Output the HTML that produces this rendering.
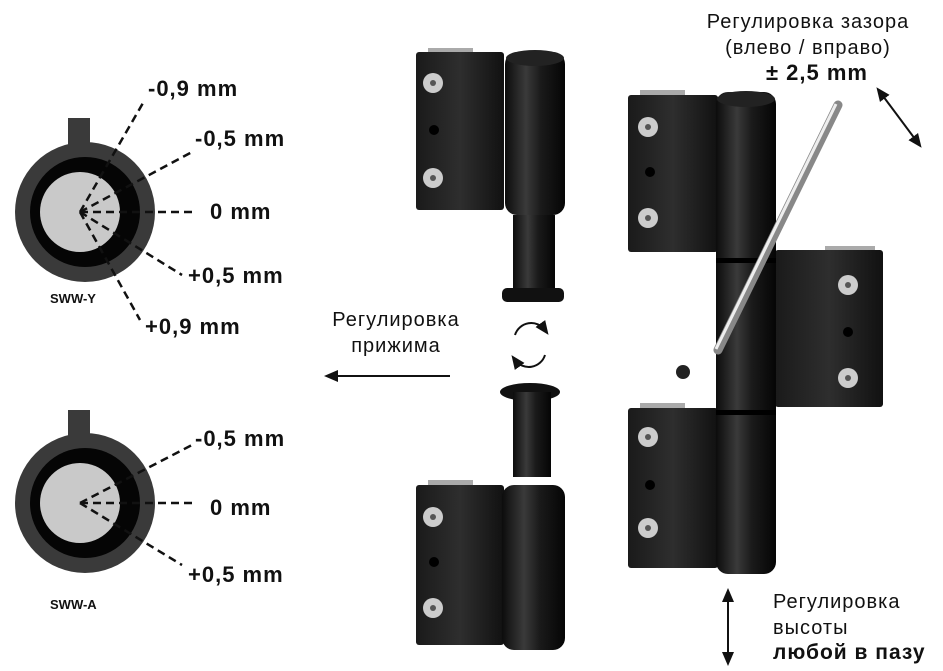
<!DOCTYPE html>
<html><head><meta charset="utf-8"><style>
body{margin:0;background:#fff;width:943px;height:671px;overflow:hidden}
svg{display:block}
text{font-family:"Liberation Sans",sans-serif;fill:#111}
.b{font-weight:bold;font-size:22px;letter-spacing:1px}
.r{font-size:20px;letter-spacing:1px}
</style></head><body>
<svg width="943" height="671" viewBox="0 0 943 671">
<defs>
<linearGradient id="cyl" x1="0" x2="1"><stop offset="0" stop-color="#0c0c0c"/><stop offset=".35" stop-color="#3a3a3a"/><stop offset=".6" stop-color="#1a1a1a"/><stop offset="1" stop-color="#050505"/></linearGradient>
<linearGradient id="pl" x1="0" x2="1"><stop offset="0" stop-color="#1a1a1a"/><stop offset=".5" stop-color="#2e2e2e"/><stop offset="1" stop-color="#111"/></linearGradient>
<g id="screw"><circle r="10" fill="#ccc"/><circle r="3" fill="#555"/></g>
<marker id="ah" markerWidth="8" markerHeight="8" refX="4" refY="4" orient="auto-start-reverse"><path d="M0,1 L7,4 L0,7 Z" fill="#111"/></marker>
</defs>

<g>
<rect x="68" y="118" width="22" height="40" fill="#3a3a3a"/>
<circle cx="85" cy="212" r="70" fill="#3a3a3a"/>
<circle cx="85" cy="212" r="55" fill="#050505"/>
<circle cx="80" cy="212" r="40" fill="#c9c9c9"/>
<g stroke="#111" stroke-width="2.5" stroke-dasharray="8,5" fill="none">
<line x1="80" y1="212" x2="143" y2="103"/>
<line x1="80" y1="212" x2="192" y2="152"/>
<line x1="80" y1="212" x2="196" y2="212"/>
<line x1="80" y1="212" x2="182" y2="275"/>
<line x1="80" y1="212" x2="140" y2="320"/>
</g>
<text x="148" y="96" class="b">-0,9 mm</text>
<text x="195" y="146" class="b">-0,5 mm</text>
<text x="210" y="219" class="b">0 mm</text>
<text x="188" y="283" class="b">+0,5 mm</text>
<text x="145" y="334" class="b">+0,9 mm</text>
<text x="50" y="303" font-size="13" font-weight="bold">SWW-Y</text>
</g>
<g>
<rect x="68" y="410" width="22" height="40" fill="#3a3a3a"/>
<circle cx="85" cy="503" r="70" fill="#3a3a3a"/>
<circle cx="85" cy="503" r="55" fill="#050505"/>
<circle cx="80" cy="503" r="40" fill="#c9c9c9"/>
<g stroke="#111" stroke-width="2.5" stroke-dasharray="8,5" fill="none">
<line x1="80" y1="503" x2="192" y2="445"/>
<line x1="80" y1="503" x2="196" y2="503"/>
<line x1="80" y1="503" x2="182" y2="565"/>
</g>
<text x="195" y="446" class="b">-0,5 mm</text>
<text x="210" y="515" class="b">0 mm</text>
<text x="188" y="582" class="b">+0,5 mm</text>
<text x="50" y="609" font-size="13" font-weight="bold">SWW-A</text>
</g>

<text x="396" y="326" class="r" text-anchor="middle">Регулировка</text>
<text x="396" y="352" class="r" text-anchor="middle">прижима</text>
<line x1="450" y1="376" x2="330" y2="376" stroke="#111" stroke-width="2" marker-end="url(#ah)"/>
<path d="M515,335 A17,17 0 0 1 545,330" fill="none" stroke="#111" stroke-width="2" marker-end="url(#ah)"/>
<path d="M545,355 A17,17 0 0 1 515,360" fill="none" stroke="#111" stroke-width="2" marker-end="url(#ah)"/>

<rect x="428" y="48" width="45" height="8" fill="#aaa"/>
<rect x="416" y="52" width="88" height="158" rx="3" fill="url(#pl)"/>
<use href="#screw" x="433" y="83"/><use href="#screw" x="433" y="178"/><circle cx="434" cy="130" r="5" fill="#000"/>
<rect x="505" y="52" width="60" height="163" rx="12" fill="url(#cyl)"/>
<ellipse cx="535" cy="58" rx="29" ry="8" fill="#222"/>
<rect x="513" y="215" width="42" height="78" fill="url(#cyl)"/>
<rect x="502" y="288" width="62" height="14" rx="5" fill="#111"/>
<ellipse cx="530" cy="392" rx="30" ry="9" fill="#111"/>
<rect x="513" y="392" width="38" height="85" fill="url(#cyl)"/>
<rect x="428" y="480" width="45" height="8" fill="#aaa"/>
<rect x="416" y="485" width="88" height="160" rx="3" fill="url(#pl)"/>
<use href="#screw" x="433" y="517"/><use href="#screw" x="433" y="608"/><circle cx="434" cy="562" r="5" fill="#000"/>
<rect x="502" y="485" width="63" height="165" rx="12" fill="url(#cyl)"/>

<rect x="640" y="90" width="45" height="8" fill="#aaa"/>
<rect x="628" y="95" width="90" height="157" rx="3" fill="url(#pl)"/>
<use href="#screw" x="648" y="127"/><use href="#screw" x="648" y="218"/><circle cx="650" cy="172" r="5" fill="#000"/>
<rect x="825" y="246" width="50" height="8" fill="#aaa"/>
<rect x="775" y="250" width="108" height="157" rx="3" fill="url(#pl)"/>
<use href="#screw" x="848" y="285"/><use href="#screw" x="848" y="378"/><circle cx="848" cy="332" r="5" fill="#000"/>
<rect x="640" y="403" width="45" height="8" fill="#aaa"/>
<rect x="628" y="408" width="90" height="160" rx="3" fill="url(#pl)"/>
<use href="#screw" x="648" y="437"/><use href="#screw" x="648" y="528"/><circle cx="650" cy="485" r="5" fill="#000"/>
<rect x="716" y="92" width="60" height="482" rx="12" fill="url(#cyl)"/>
<ellipse cx="746" cy="99" rx="29" ry="8" fill="#222"/>
<rect x="716" y="258" width="60" height="5" fill="#000"/>
<rect x="716" y="410" width="60" height="5" fill="#000"/>
<line x1="838" y1="105" x2="718" y2="350" stroke="#888" stroke-width="9" stroke-linecap="round"/>
<line x1="836" y1="104" x2="716" y2="349" stroke="#eee" stroke-width="3"/>
<circle cx="683" cy="372" r="7" fill="#222"/>

<text x="808" y="28" class="r" text-anchor="middle">Регулировка зазора</text>
<text x="808" y="54" class="r" text-anchor="middle">(влево / вправо)</text>
<text x="817" y="80" class="b" text-anchor="middle">± 2,5 mm</text>
<line x1="880" y1="92" x2="918" y2="143" stroke="#111" stroke-width="2" marker-start="url(#ah)" marker-end="url(#ah)"/>
<line x1="728" y1="594" x2="728" y2="660" stroke="#111" stroke-width="2" marker-start="url(#ah)" marker-end="url(#ah)"/>
<text x="773" y="608" class="r">Регулировка</text>
<text x="773" y="634" class="r">высоты</text>
<text x="773" y="659" class="b" style="font-size:21px">любой в пазу</text>
</svg>
</body></html>
